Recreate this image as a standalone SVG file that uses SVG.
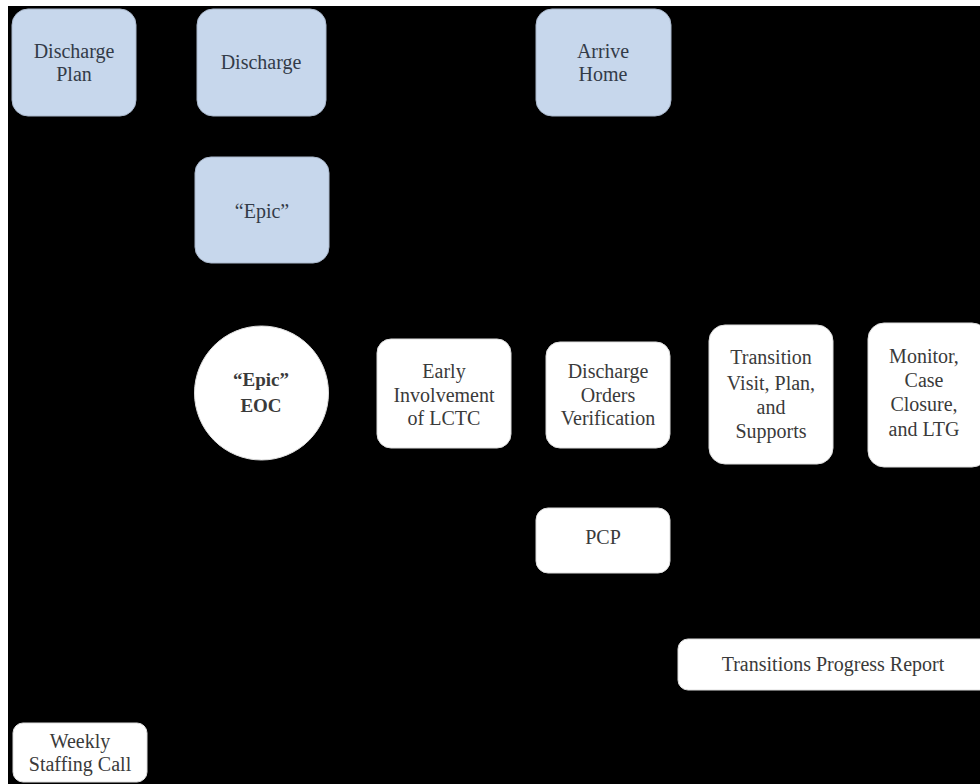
<svg xmlns="http://www.w3.org/2000/svg" width="980" height="784" viewBox="0 0 980 784">
<style>
.bg{fill:#000}
.blue{fill:#c7d7ec;stroke:#aab8cc;stroke-width:1}
.white{fill:#fff;stroke:#ddd;stroke-width:1}
text{font-family:'Liberation Serif','DejaVu Serif',serif;font-size:20px;text-anchor:middle}
.bt{fill:#333b48}
.wt{fill:#3a3a3a}
.bold{font-weight:bold;font-size:19px}
</style>
<rect x="0" y="0" width="980" height="784" fill="#fff"/>
<rect class="bg" x="8" y="6" width="972" height="778"/>
<g id="connectors"></g>
<g id="discharge-plan">
<rect class="blue" x="12" y="9" width="124" height="107" rx="16"/>
<text class="bt" x="74" y="58">Discharge</text>
<text class="bt" x="74" y="81">Plan</text>
</g>
<g id="discharge">
<rect class="blue" x="197" y="9" width="129" height="107" rx="16"/>
<text class="bt" x="261" y="69">Discharge</text>
</g>
<g id="epic">
<rect class="blue" x="195" y="157" width="134" height="106" rx="16"/>
<text class="bt" x="262" y="218">“Epic”</text>
</g>
<g id="arrive-home">
<rect class="blue" x="536" y="9" width="135" height="107" rx="16"/>
<text class="bt" x="603" y="58">Arrive</text>
<text class="bt" x="603" y="81">Home</text>
</g>
<g id="epic-eoc">
<circle class="white" cx="261.5" cy="393" r="67"/>
<text class="wt bold" x="261" y="386">“Epic”</text>
<text class="wt bold" x="261" y="412">EOC</text>
</g>
<g id="early-involvement">
<rect class="white" x="377" y="339" width="134" height="109" rx="14"/>
<text class="wt" x="444" y="378">Early</text>
<text class="wt" x="444" y="402">Involvement</text>
<text class="wt" x="444" y="425">of LCTC</text>
</g>
<g id="discharge-orders">
<rect class="white" x="546" y="342" width="124" height="106" rx="14"/>
<text class="wt" x="608" y="378">Discharge</text>
<text class="wt" x="608" y="402">Orders</text>
<text class="wt" x="608" y="425">Verification</text>
</g>
<g id="transition-visit">
<rect class="white" x="709" y="325" width="124" height="139" rx="16"/>
<text class="wt" x="771" y="364">Transition</text>
<text class="wt" x="771" y="390">Visit, Plan,</text>
<text class="wt" x="771" y="414">and</text>
<text class="wt" x="771" y="438">Supports</text>
</g>
<g id="monitor">
<rect class="white" x="868" y="323" width="120" height="144" rx="16"/>
<text class="wt" x="924" y="363">Monitor,</text>
<text class="wt" x="924" y="387">Case</text>
<text class="wt" x="924" y="411">Closure,</text>
<text class="wt" x="924" y="436">and LTG</text>
</g>
<g id="pcp">
<rect class="white" x="536" y="508" width="134" height="65" rx="12"/>
<text class="wt" x="603" y="544">PCP</text>
</g>
<g id="progress-report">
<rect class="white" x="678" y="639" width="312" height="51" rx="10"/>
<text class="wt" x="833" y="671">Transitions Progress Report</text>
</g>
<g id="weekly-staffing">
<rect class="white" x="13" y="723" width="134" height="59" rx="10"/>
<text class="wt" x="80" y="748">Weekly</text>
<text class="wt" x="80" y="771">Staffing Call</text>
</g>
</svg>
